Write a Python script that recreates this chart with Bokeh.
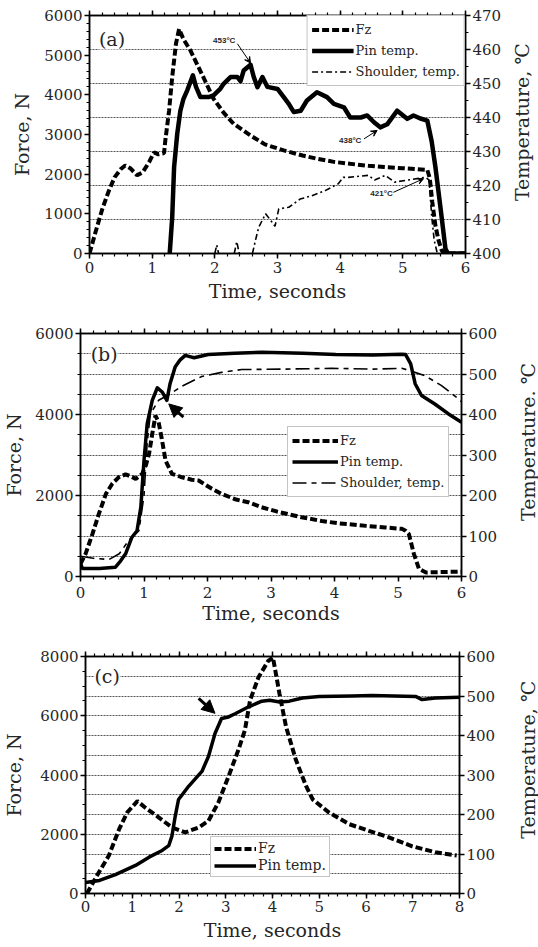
import math
import numpy as np
from bokeh.plotting import figure
from bokeh.models import (Range1d, LinearAxis, SingleIntervalTicker, FixedTicker, Grid,
                          Legend, LegendItem, Label, Arrow, VeeHead, NormalHead,
                          CustomLabelingPolicy)
from bokeh.layouts import column, row
from bokeh.embed import file_html
from bokeh.resources import INLINE

nan = float("nan")

# ---------------- Panel (a) ----------------
a_fz_time = [0.0, 0.1, 0.2, 0.3, 0.4, 0.5, 0.57, 0.65, 0.76, 0.85, 0.95, 1.03, 1.1, 1.19, 1.21,
             1.27, 1.32, 1.38, 1.43, 1.5, 1.61, 1.8, 1.98, 2.14, 2.3, 2.57, 2.8, 3.1, 3.4, 3.63,
             3.9, 4.16, 4.45, 4.7, 5.0, 5.2, 5.39, 5.43, 5.47, 5.52, 5.57, 5.62, 5.66, 6.0]
a_fz = [0, 560, 1100, 1545, 1920, 2130, 2220, 2150, 1970, 2050, 2300, 2550, 2500, 2530, 2850,
        3600, 4450, 5290, 5660, 5400, 5120, 4500, 3900, 3550, 3270, 2975, 2750, 2600, 2470, 2390,
        2310, 2260, 2210, 2180, 2150, 2130, 2110, 1900, 1300, 700, 330, 80, 0, 0]
a_pin_time = [1.28, 1.32, 1.35, 1.40, 1.45, 1.50, 1.56, 1.65, 1.70, 1.77, 1.90, 1.98, 2.09, 2.14,
              2.25, 2.36, 2.41, 2.46, 2.57, 2.62, 2.68, 2.76, 2.84, 3.00, 3.10, 3.18, 3.26, 3.37,
              3.47, 3.63, 3.79, 3.90, 4.06, 4.16, 4.33, 4.43, 4.54, 4.64, 4.75, 4.91, 5.07, 5.17,
              5.28, 5.39, 5.46, 5.52, 5.60, 5.68, 5.72, 6.00]
a_pin = [400, 410.7, 425.4, 435.2, 442, 445.5, 448, 452.4, 449, 446, 446, 446.5, 448.5, 449.9,
         451.9, 451.9, 450.7, 453.8, 455.5, 452, 448.9, 451.9, 449, 448.4, 446, 444, 441.6, 442,
         445, 447.4, 446, 444, 443, 440, 440, 440.6, 438.6, 437.1, 438, 442, 439.6, 440.6,
         439.7, 439.1, 433, 425.4, 413.6, 401.4, 400, 400]
a_sh_time = [2.00, 2.03, 2.06, nan, 2.31, 2.35, 2.39, nan, 2.60, 2.65, 2.70, 2.81, 2.88, 2.96,
             3.02, 3.18, 3.36, 3.55, 3.76, 3.97, 4.05, 4.13, 4.45, 4.55, 4.72, 4.87, 5.08, 5.36,
             5.42, 5.46, 5.50, 5.55]
a_sh = [400, 402.5, 400, nan, 400, 403.5, 400, nan, 400, 404, 407.7, 411.7, 410, 408, 413.1,
        413.6, 416, 417, 418.5, 420.5, 422.4, 422.4, 423, 421.6, 423, 421, 421.6, 422.4, 421.6,
        411, 404, 400]
a_grid_temps = [410, 420, 430, 440, 450, 460]

# ---------------- Panel (b) ----------------
b_fz_time = [0.0, 0.08, 0.19, 0.29, 0.40, 0.50, 0.60, 0.71, 0.80, 0.87, 0.97, 1.03, 1.08, 1.13,
             1.18, 1.23, 1.28, 1.34, 1.44, 1.60, 1.75, 1.86, 2.07, 2.22, 2.45, 2.64, 2.85, 3.10,
             3.48, 3.80, 4.05, 4.50, 4.80, 5.06, 5.12, 5.17, 5.25, 5.33, 5.44, 5.70, 6.00]
b_fz = [313, 560, 1060, 1550, 2040, 2290, 2450, 2520, 2470, 2410, 2530, 2750, 3030, 3520, 3975,
        3810, 3400, 2860, 2535, 2450, 2390, 2370, 2165, 2040, 1900, 1835, 1711, 1600, 1464, 1370,
        1316, 1250, 1210, 1177, 1130, 1054, 560, 190, 100, 110, 120]
b_pin_time = [0.0, 0.03, 0.30, 0.55, 0.63, 0.71, 0.81, 0.89, 0.95, 1.00, 1.05, 1.13, 1.21, 1.29,
              1.36, 1.41, 1.49, 1.57, 1.65, 1.72, 1.79, 2.01, 2.43, 2.85, 3.50, 4.02, 4.60, 5.06,
              5.12, 5.20, 5.27, 5.37, 5.58, 5.79, 6.00]
b_pin = [32, 20, 20, 23, 38, 56, 97, 113, 171, 286, 377, 435, 466, 455, 435, 476, 517, 535, 546,
         543, 540, 548, 551, 554, 551, 548, 547, 549, 548, 525, 476, 447, 426, 402, 381]
b_sh_time = [0.0, 0.20, 0.45, 0.61, 0.76, 0.92, 1.00, 1.05, 1.10, 1.23, 1.37, 1.60, 1.91, 2.22,
             2.54, 3.17, 3.95, 4.60, 5.06, 5.17, 5.42, 5.68, 5.95, 6.00]
b_sh = [50, 45, 42, 56, 89, 113, 200, 330, 401, 435, 447, 470, 494, 504, 511, 512, 514, 512,
        514, 509, 496, 472, 439, 432]
b_grid_temps = [50, 100, 150, 200, 250, 300, 350, 400, 450, 500, 550]

# ---------------- Panel (c) ----------------
c_fz_time = [0.03, 0.29, 0.50, 0.72, 0.89, 1.11, 1.28, 1.57, 1.85, 2.13, 2.42, 2.63, 2.84, 3.06,
             3.27, 3.41, 3.52, 3.70, 3.91, 4.01, 4.15, 4.29, 4.50, 4.72, 4.86, 5.21, 5.64, 6.06,
             6.49, 6.99, 7.48, 7.94]
c_fz = [0, 724, 1281, 2173, 2730, 3120, 2897, 2563, 2228, 2061, 2228, 2451, 3064, 3955, 4847,
        5515, 6518, 7298, 7855, 7966, 6741, 5627, 4512, 3621, 3176, 2730, 2340, 2117, 1894, 1593,
        1393, 1281]
c_pin_time = [0.0, 0.30, 0.64, 1.07, 1.36, 1.64, 1.78, 1.85, 1.92, 1.99, 2.21, 2.49, 2.63, 2.77,
              2.91, 3.06, 3.20, 3.48, 3.77, 3.94, 4.15, 4.36, 4.64, 5.00, 5.70, 6.13, 7.06, 7.20,
              7.48, 8.00]
c_pin = [28, 33, 48, 71, 92, 109, 121, 146, 196, 238, 272, 309, 347, 405, 443, 447, 455, 472,
         487, 489, 485, 487, 495, 499, 500, 501, 499, 491, 495, 497]
c_grid_temps = [50, 100, 150, 200, 250, 300, 350, 400, 450, 500, 550]

SERIF = "DejaVu Serif"
INK = "#262626"
MAIN_W = 508
SIDE_W = 30

HIDE_ALL = CustomLabelingPolicy(code="""
const ids = Array.from(indices);
for (const i of ids) { indices.unset(i); }
return indices;
""")


def style_axis(ax, label=None, tick_standoff=2, label_standoff=5, labels=True):
    ax.axis_line_width = 1.5
    ax.axis_line_color = "black"
    ax.major_tick_line_color = "black"
    ax.minor_tick_line_color = "black"
    ax.major_tick_line_width = 1.5
    ax.minor_tick_line_width = 1.2
    ax.major_tick_out = 5
    ax.major_tick_in = 0
    ax.minor_tick_out = 3
    ax.minor_tick_in = 0
    ax.major_label_text_font = SERIF
    ax.major_label_text_color = INK
    if labels:
        ax.major_label_text_font_size = "15px"
        ax.major_label_standoff = tick_standoff
    else:
        ax.major_label_text_font_size = "2px"
        ax.major_label_standoff = 0
        ax.major_label_policy = HIDE_ALL
    ax.axis_label = label
    ax.axis_label_text_font = SERIF
    ax.axis_label_text_font_size = "19px"
    ax.axis_label_text_font_style = "normal"
    ax.axis_label_text_color = INK
    ax.axis_label_standoff = label_standoff


def make_panel(height, borders, xmax, fmax, trange, f_int, f_minor, t_int, t_minor,
               grid_temps, stand):
    bl, br, bt, bb = borders
    p = figure(width=MAIN_W, height=height, x_range=Range1d(0, xmax), y_range=Range1d(0, fmax),
               output_backend="svg", toolbar_location=None,
               min_border_left=bl, min_border_right=br, min_border_top=bt, min_border_bottom=bb)
    p.extra_y_ranges = {"temp": Range1d(*trange)}
    p.outline_line_color = "black"
    p.outline_line_width = 1.5
    p.background_fill_color = "white"
    p.border_fill_color = "white"
    p.xgrid.visible = False
    p.ygrid.visible = False

    p.xaxis.ticker = SingleIntervalTicker(interval=1, num_minor_ticks=5)
    p.yaxis.ticker = SingleIntervalTicker(interval=f_int, num_minor_ticks=f_minor)
    style_axis(p.xaxis[0], "Time, seconds", tick_standoff=stand[0], label_standoff=stand[1])
    style_axis(p.yaxis[0], "Force, N", tick_standoff=2, label_standoff=stand[2])

    top = LinearAxis(ticker=SingleIntervalTicker(interval=1, num_minor_ticks=5))
    style_axis(top, None, labels=False)
    p.add_layout(top, "above")

    right = LinearAxis(y_range_name="temp",
                       ticker=SingleIntervalTicker(interval=t_int, num_minor_ticks=t_minor))
    style_axis(right, None, tick_standoff=2)
    p.add_layout(right, "right")

    g = Grid(dimension=1, ticker=FixedTicker(ticks=grid_temps), y_range_name="temp",
             grid_line_color="#555555", grid_line_dash="2 1", grid_line_width=1)
    p.add_layout(g)
    return p


def side_title(height, text, x_center, y_from_bottom):
    """Narrow strip to the right of a panel holding its temperature axis title."""
    s = figure(width=SIDE_W, height=height, x_range=Range1d(0, SIDE_W),
               y_range=Range1d(0, height), x_axis_type=None, y_axis_type=None,
               output_backend="svg", toolbar_location=None, min_border=0)
    s.outline_line_color = None
    s.background_fill_color = "white"
    s.border_fill_color = "white"
    s.grid.visible = False
    s.add_layout(Label(x=x_center, y=y_from_bottom, text=text, angle=math.pi / 2,
                       text_align="center", text_baseline="middle", text_font=SERIF,
                       text_font_size="19px", text_color=INK))
    return s


def add_legend(p, items, location, glyph_w, row_h, font_size, pad, spacing):
    lg = Legend(items=[LegendItem(label=l, renderers=[r]) for l, r in items],
                location=location, margin=0, padding=pad, spacing=spacing,
                glyph_width=glyph_w, glyph_height=row_h, label_height=row_h,
                label_standoff=2, label_text_font=SERIF, label_text_font_size=font_size,
                label_text_color=INK, border_line_color="#8a8a8a", border_line_width=1.2,
                background_fill_color="white", background_fill_alpha=1.0)
    p.add_layout(lg)


def panel_tag(p, x, y, text):
    p.add_layout(Label(x=x, y=y, text=text, text_font=SERIF, text_font_size="19px",
                       text_color=INK, text_baseline="middle",
                       background_fill_color="white", background_fill_alpha=1.0))


# ---------- figure (a) ----------
pa = make_panel(310, (89, 43, 15, 57), 6, 6000, (400, 470), 1000, 5, 10, 2,
                a_grid_temps, (3, 4, 8))
fa = pa.line(a_fz_time, a_fz, line_width=4, line_dash="7 3", color="black")
pina = pa.line(a_pin_time, a_pin, y_range_name="temp", line_width=4.5, color="black",
               line_join="round")
sha = pa.line(np.array(a_sh_time), np.array(a_sh), y_range_name="temp", line_width=1.6,
              line_dash="6 3 2 3", color="black")
add_legend(pa, [("Fz", fa), ("Pin temp.", pina), ("Shoulder, temp.", sha)], "top_right",
           42, 19, "13px", 4, 2)
panel_tag(pa, 0.15, 5420, "(a)")

ann_font = dict(text_font="Liberation Sans", text_font_style="bold", text_font_size="8px",
                text_color=INK, text_align="center", text_baseline="middle",
                y_range_name="temp")
pa.add_layout(Label(x=2.15, y=462.6, text="453\u00b0C", **ann_font))
pa.add_layout(Label(x=4.16, y=433.2, text="438\u00b0C", **ann_font))
pa.add_layout(Label(x=4.66, y=417.6, text="421\u00b0C", **ann_font))
for xs, ys, xe, ye in [(2.36, 461.7, 2.57, 456.0), (4.38, 433.7, 4.59, 436.2),
                       (4.85, 418.0, 5.33, 422.0)]:
    pa.add_layout(Arrow(end=VeeHead(size=6, line_width=1, line_color="black"),
                        x_start=xs, y_start=ys, x_end=xe, y_end=ye, line_width=1,
                        line_color="black", y_range_name="temp"))
sa = side_title(310, "Temperature, \u2103", 13, 171)

# ---------- figure (b) ----------
pb = make_panel(318, (78, 47, 23, 52), 6, 6000, (0, 600), 2000, 4, 100, 2,
                b_grid_temps, (5, 1, 7))
fb = pb.line(b_fz_time, b_fz, line_width=4, line_dash="7 3", color="black")
pinb = pb.line(b_pin_time, b_pin, y_range_name="temp", line_width=3.5, color="black",
               line_join="round")
shb = pb.line(b_sh_time, b_sh, y_range_name="temp", line_width=1.6, line_dash="14 5 5 5",
              color="black")
add_legend(pb, [("Fz", fb), ("Pin temp.", pinb), ("Shoulder, temp.", shb)], (207, 79),
           46, 19, "13px", 4, 2)
panel_tag(pb, 0.16, 5500, "(b)")
pb.add_layout(Arrow(end=NormalHead(size=13, fill_color="black", line_color="black"),
                    x_start=1.62, y_start=3933, x_end=1.39, y_end=4262, line_width=3,
                    line_color="black"))
sb = side_title(318, "Temperature. \u2103", 19, 176)

# ---------- figure (c) ----------
pc = make_panel(319, (83, 49, 28, 54), 8, 8000, (0, 600), 2000, 4, 100, 2,
                c_grid_temps, (2, 4, 12))
fc = pc.line(c_fz_time, c_fz, line_width=4, line_dash="7 3", color="black")
pinc = pc.line(c_pin_time, c_pin, y_range_name="temp", line_width=3.5, color="black",
               line_join="round")
add_legend(pc, [("Fz", fc), ("Pin temp.", pinc)], (125, 16), 42, 15, "14px", 3, 1)
panel_tag(pc, 0.19, 7333, "(c)")
pc.add_layout(Arrow(end=NormalHead(size=13, fill_color="black", line_color="black"),
                    x_start=2.42, y_start=6584, x_end=2.77, y_end=6082, line_width=3,
                    line_color="black"))
sc = side_title(319, "Temperature, \u2103", 19, 180)

layout = column(row(pa, sa, spacing=0), row(pb, sb, spacing=0), row(pc, sc, spacing=0),
                spacing=0)
open("out.html", "w").write(file_html(layout, INLINE))
